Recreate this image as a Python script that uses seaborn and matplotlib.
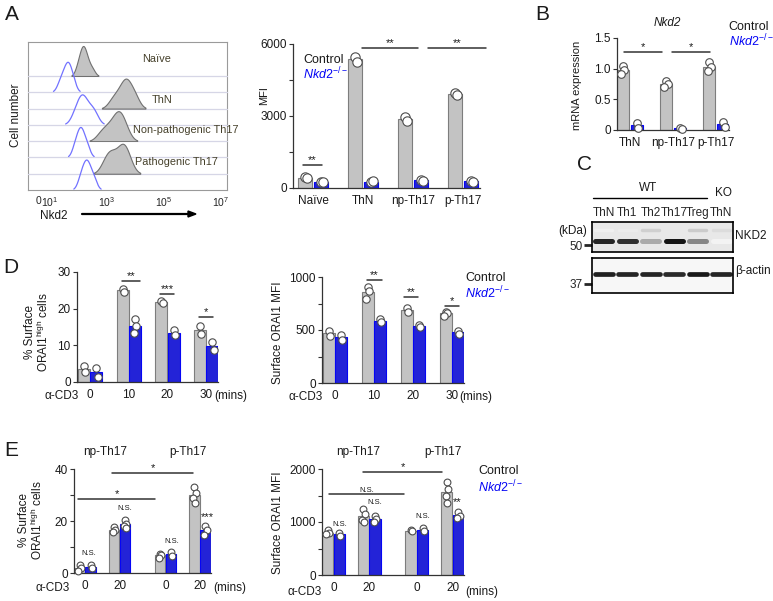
import numpy as np
import pandas as pd
import seaborn as sns
import matplotlib.pyplot as plt

sns.set_style('ticks')
plt.rcParams['font.family'] = ['Liberation Sans', 'DejaVu Sans']
plt.rcParams['mathtext.fontset'] = 'custom'
plt.rcParams['mathtext.rm'] = 'Liberation Sans'
plt.rcParams['mathtext.it'] = 'Liberation Sans:italic'
plt.rcParams['mathtext.bf'] = 'Liberation Sans:bold'

# ---------------- data ----------------
# A: flow histograms, log10 fluorescence of a few events per population
hist_names = ['Naïve', 'ThN', 'Non-pathogenic Th17', 'Pathogenic Th17']
naive_ctrl = [1.95, 2.03, 2.08, 2.12, 2.15, 2.18, 2.21, 2.25, 2.3, 2.38, 2.5]
naive_ko = [1.33, 1.44, 1.51, 1.57, 1.62, 1.66, 1.7, 1.76, 1.85]
thn_ctrl = [3.15, 3.3, 3.42, 3.52, 3.6, 3.65, 3.69, 3.74, 3.82, 3.95, 4.02]
thn_ko = [1.85, 1.97, 2.05, 2.11, 2.16, 2.21, 2.28, 2.4, 2.52, 2.6]
np_ctrl = [2.75, 2.92, 3.05, 3.17, 3.27, 3.35, 3.4, 3.45, 3.5, 3.58, 3.7]
np_ko = [1.85, 1.94, 2.0, 2.05, 2.09, 2.13, 2.18, 2.25, 2.35]
p_ctrl = [2.9, 3.02, 3.1, 3.18, 3.3, 3.44, 3.52, 3.57, 3.62, 3.68, 3.8]
p_ko = [2.05, 2.14, 2.2, 2.26, 2.3, 2.34, 2.4, 2.48, 2.58]
hist_ticks = [0.58, 1, 3, 5, 7]
hist_ticklabels = ['0', '$10^1$', '$10^3$', '$10^5$', '$10^7$']

# A: MFI
a_groups = ['Naïve', 'ThN', 'np-Th17', 'p-Th17']
a_ctrl = [[460, 400], [5460, 5250], [2960, 2800], [3960, 3880]]
a_ko = [[270, 240], [250, 290], [330, 310], [290, 270]]
a_sig = [(-0.2, 0.18, 958, '**'), (0.98, 2.1, 5833, '**'), (2.3, 3.46, 5833, '**')]

# B: mRNA
b_groups = ['ThN', 'np-Th17', 'p-Th17']
b_ctrl = [[1.04, 0.98, 0.92], [0.80, 0.75, 0.70], [1.11, 1.02, 0.96]]
b_ko = [[0.11, 0.04], [0.04, 0.02], [0.13, 0.05]]
b_sig = [(-0.14, 0.75, 1.27, '*'), (0.98, 1.85, 1.27, '*')]

# C: western blot band intensities
blot_lanes = ['ThN', 'Th1', 'Th2', 'Th17', 'Treg', 'ThN']
nkd2_band = [0.9, 0.85, 0.35, 0.97, 0.5, 0.05]
nkd2_upper = [0.07, 0.08, 0.2, 0.1, 0.22, 0.15]
actin_band = [0.92, 0.9, 0.9, 0.88, 0.95, 0.9]

# D: time course
d_times = ['0', '10', '20', '30']
d1_ctrl = [[4.3, 2.7], [25.5, 24.5], [22.2, 21.6], [15.3, 13.1]]
d1_ko = [[3.7, 1.5], [17.3, 15.4, 13.3], [14.2, 12.7], [10.9, 8.7]]
d1_sig = [(0.83, 1.29, 27.5, '**'), (1.81, 2.17, 24.0, '***'), (2.82, 3.18, 17.7, '*')]
d2_ctrl = [[494, 448], [905, 864, 793], [706, 672], [674, 658, 636]]
d2_ko = [[455, 408], [601, 578], [547, 527], [490, 466]]
d2_sig = [(0.82, 1.2, 972, '**'), (1.77, 2.13, 811, '**'), (2.82, 3.18, 726, '*')]

# E: np-Th17 vs p-Th17
e_pos = [0, 1, 2.33, 3.33]
e_times = ['0', '20', '0', '20']
e1_ctrl = [[3.2, 1.8, 0.8], [17.6, 16.7, 15.7], [7.5, 7.0, 5.9], [33.0, 30.8, 29.0, 27.0]]
e1_ko = [[3.0, 2.0], [20.4, 19.0, 17.9, 17.4], [8.1, 6.5], [17.9, 16.6, 14.8]]
e1_sig = [(-0.2, 2.03, 28.5, '*'), (0.78, 3.13, 38.5, '*')]
e1_notes = [(0.12, 6.2, 'N.S.'), (1.16, 23.5, 'N.S.'), (2.52, 10.8, 'N.S.'), (3.53, 21.5, '***')]
e2_ctrl = [[840, 790, 770], [1247, 1158, 1032, 1000], [845, 825], [1753, 1627, 1487, 1361]]
e2_ko = [[800, 745], [1120, 1063, 1000], [880, 830], [1190, 1120, 1075]]
e2_sig = [(-0.125, 1.96, 1528, 'N.S.'), (0.82, 3.04, 1943, '*')]
e2_notes = [(0.18, 887, 'N.S.'), (1.15, 1302, 'N.S.'), (2.49, 1038, 'N.S.'), (3.46, 1380, '**')]

# ---------------- style ----------------
GRAY = '#c3c3c3'
GRAY_EDGE = '#7d7d7d'
BLUE = '#0505f5'
INK = '#1a1a1a'
KO_LABEL = r'$\mathit{Nkd2}^{\mathit{-/-}}$'
JIT = [0.0, 0.035, -0.035, 0.015]

W, H = 773, 601
fig = plt.figure(figsize=(W / 100, H / 100), dpi=100)


def px_rect(l, t, r, b):
    return [l / W, 1 - b / H, (r - l) / W, (b - t) / H]


def ftext(x, y, s, **kw):
    kw.setdefault('ha', 'center')
    kw.setdefault('va', 'center')
    kw.setdefault('color', INK)
    fig.text(x / W, 1 - y / H, s, **kw)


def style_axes(ax):
    sns.despine(ax=ax)
    for s in ['left', 'bottom']:
        ax.spines[s].set_color('#333333')
        ax.spines[s].set_linewidth(0.9)
    ax.tick_params(axis='y', length=3, width=0.8, labelsize=8.5, pad=1.5, colors='#333333', labelcolor=INK)
    ax.tick_params(axis='x', length=0, labelsize=8.5, pad=5, labelcolor=INK)
    ax.set_xlabel('')
    ax.set_ylabel('')


def bar_panel(box, pos, ctrl, ko, width, gap, xlim, ylim, yticks, yticklabels,
              dot_s, xticklabels, sig, notes=()):
    rows = []
    for p, cvals, kvals in zip(pos, ctrl, ko):
        for k, v in enumerate(cvals):
            rows.append((p, 'Control', v, p - width / 4 + JIT[k % 4]))
        for k, v in enumerate(kvals):
            rows.append((p, 'KO', v, p + width / 4 + JIT[k % 4]))
    df = pd.DataFrame(rows, columns=['pos', 'geno', 'val', 'xdot'])
    ax = fig.add_axes(px_rect(*box))
    sns.barplot(data=df, x='pos', y='val', hue='geno', hue_order=['Control', 'KO'],
                palette={'Control': GRAY, 'KO': BLUE}, native_scale=True,
                errorbar=None, width=width, gap=gap, linewidth=0.8,
                edgecolor=GRAY_EDGE, legend=False, ax=ax)
    for bar in ax.patches:
        fc = bar.get_facecolor()
        if fc[2] > 0.8 and fc[0] < 0.3:
            bar.set_edgecolor(BLUE)
    sns.scatterplot(data=df, x='xdot', y='val', color='white', edgecolor='#4d4d4d',
                    linewidth=0.8, s=dot_s, zorder=3, legend=False, ax=ax, clip_on=False)
    ax.set_xlim(*xlim)
    ax.set_ylim(*ylim)
    ax.set_yticks(yticks)
    ax.set_yticklabels(yticklabels)
    ax.set_xticks(pos)
    ax.set_xticklabels(xticklabels)
    style_axes(ax)
    for x0, x1, y, lab in sig:
        ax.plot([x0, x1], [y, y], color='#333333', lw=1.1, clip_on=False)
        fs = 5.5 if lab == 'N.S.' else 8
        ax.text((x0 + x1) / 2, y, lab, ha='center', va='bottom', fontsize=fs, color=INK)
    for x, y, lab in notes:
        if lab == 'N.S.':
            ax.text(x, y, lab, ha='center', va='bottom', fontsize=5.5, color=INK)
        else:
            ax.text(x, y, lab, ha='center', va='center', fontsize=8, color=INK)
    return ax


# ---------------- A: histograms ----------------
HX = (0.228, 7.21)
box = fig.add_axes(px_rect(28, 41.7, 227, 190))
box.set_xlim(*HX)
box.set_yticks([])
box.set_xticks(hist_ticks)
box.set_xticklabels(hist_ticklabels)
box.tick_params(axis='x', length=0, labelsize=7.5, pad=4)
for s in box.spines.values():
    s.set_color('#9a9a9a')
    s.set_linewidth(0.8)

curves = [(naive_ctrl, 'c'), (naive_ko, 'k'), (thn_ctrl, 'c'), (thn_ko, 'k'),
          (np_ctrl, 'c'), (np_ko, 'k'), (p_ctrl, 'c'), (p_ko, 'k')]
for i, (samples, kind) in enumerate(curves):
    base = 76 + 16.29 * i
    cax = fig.add_axes(px_rect(28, base - 40, 227, base))
    cax.patch.set_alpha(0)
    if kind == 'c':
        sns.kdeplot(x=samples, ax=cax, fill=True, color=GRAY, alpha=1, cut=2,
                    edgecolor='#707070', linewidth=0.8, bw_adjust=1.0)
        peak = cax.collections[0].get_paths()[0].vertices[:, 1].max()
    else:
        sns.kdeplot(x=samples, ax=cax, color='#7272ff', linewidth=0.9, cut=2, bw_adjust=1.0)
        peak = cax.lines[0].get_ydata().max()
    cax.set_xlim(*HX)
    cax.set_ylim(0, peak * 40 / 30)
    if i < 7:
        cax.axhline(0, color='#d6d6e6', lw=0.9, clip_on=False, zorder=0)
    cax.set_axis_off()

hist_label_pos = [(157, 59), (162, 100), (186, 130), (176, 162)]
for name, (x, y) in zip(hist_names, hist_label_pos):
    ftext(x, y, name, fontsize=7.8, color='#45402a')
ftext(16, 115, 'Cell number', rotation=90, fontsize=8.5)
ftext(54, 216, 'Nkd2', fontsize=8.5)
fig.add_artist(plt.Line2D([82 / W, 190 / W], [1 - 214 / H, 1 - 214 / H], color='black', lw=1.6))
fig.add_artist(plt.Polygon([[188 / W, 1 - 211 / H], [196 / W, 1 - 214 / H], [188 / W, 1 - 217 / H]],
                           closed=True, color='black'))

# ---------------- A: MFI bars ----------------
bar_panel((293, 44, 480, 188), [0, 1, 2, 3], a_ctrl, a_ko, 0.64, 0.12, (-0.4, 3.34),
          (0, 6000), [0, 1500, 3000, 4500, 6000], ['0', '', '3000', '', '6000'],
          45, a_groups, a_sig)
ftext(264, 96, 'MFI', rotation=90, fontsize=8)
ftext(303, 60, 'Control', ha='left', fontsize=9)
ftext(303, 74, KO_LABEL, ha='left', fontsize=9, color=BLUE)

# ---------------- B ----------------
bar_panel((617, 38, 729, 130), [0, 1, 2], b_ctrl, b_ko, 0.65, 0.14, (-0.3, 2.3),
          (0, 1.5), [0, 0.5, 1.0, 1.5], ['0', '0.5', '1.0', '1.5'],
          30, b_groups, b_sig)
ftext(667, 23, 'Nkd2', fontsize=8.5, style='italic')
ftext(577, 85, 'mRNA expression', rotation=90, fontsize=8)
ftext(728, 27, 'Control', ha='left', fontsize=9)
ftext(729, 41, KO_LABEL, ha='left', fontsize=9, color=BLUE)

# ---------------- C: western blot ----------------
lanes = np.arange(len(blot_lanes))
bax = fig.add_axes(px_rect(592, 222, 733, 252))
bax.set_facecolor('#e8e8e8')
for x, v in zip(lanes, nkd2_upper):
    bax.hlines(0.73, x - 0.36, x + 0.36, color=str(1 - 0.92 * v), lw=2.5, capstyle='round')
for x, v in zip(lanes, nkd2_band):
    bax.hlines(0.37, x - 0.36, x + 0.36, color=str(1 - 0.95 * v), lw=3.6, capstyle='round')
bax.set_xlim(-0.5, 5.5)
bax.set_ylim(0, 1)
bax.set_xticks(lanes)
bax.set_xticklabels(blot_lanes)
bax.xaxis.tick_top()
bax.tick_params(axis='x', length=0, labelsize=8.5, pad=2)
bax.set_yticks([0.23])
bax.set_yticklabels(['50'])
bax.tick_params(axis='y', length=6, width=2, labelsize=8.5, pad=1)
for s in bax.spines.values():
    s.set_color('black')
    s.set_linewidth(1.2)

aax = fig.add_axes(px_rect(592, 258, 733, 293))
aax.set_facecolor('#f7f7f7')
for x, v in zip(lanes, actin_band):
    aax.hlines(0.54, x - 0.38, x + 0.38, color=str(1 - 0.95 * v), lw=3.4, capstyle='round')
aax.set_xlim(-0.5, 5.5)
aax.set_ylim(0, 1)
aax.set_xticks([])
aax.set_yticks([0.26])
aax.set_yticklabels(['37'])
aax.tick_params(axis='y', length=6, width=2, labelsize=8.5, pad=1)
for s in aax.spines.values():
    s.set_color('black')
    s.set_linewidth(1.2)

ftext(648, 188, 'WT', fontsize=8.5)
fig.add_artist(plt.Line2D([593 / W, 707 / W], [1 - 198 / H, 1 - 198 / H], color='black', lw=1))
ftext(723, 193, 'KO', fontsize=8.5)
ftext(573, 231, '(kDa)', fontsize=8.5)
ftext(735, 236, 'NKD2', ha='left', fontsize=8.5)
ftext(735, 271, 'β-actin', ha='left', fontsize=8.5)

# ---------------- D ----------------
bar_panel((77, 272, 218, 382), [0, 1, 2, 3], d1_ctrl, d1_ko, 0.64, 0.02, (-0.34, 3.31),
          (0, 30), [0, 10, 20, 30], ['0', '10', '20', '30'], 28, d_times, d1_sig)
ftext(30, 332, '% Surface', rotation=90, fontsize=8.5)
ftext(43, 332, r'ORAI1$^{\rm high}$ cells', rotation=90, fontsize=8.5)
ftext(62, 396, 'α-CD3', fontsize=8.5)
ftext(231, 396, '(mins)', fontsize=8.5)

bar_panel((322, 277, 464, 383), [0, 1, 2, 3], d2_ctrl, d2_ko, 0.62, 0.02, (-0.33, 3.31),
          (0, 1000), [0, 250, 500, 750, 1000], ['0', '', '500', '', '1000'], 28, d_times, d2_sig)
ftext(278, 333, 'Surface ORAI1 MFI', rotation=90, fontsize=8.5)
ftext(306, 397, 'α-CD3', fontsize=8.5)
ftext(476, 397, '(mins)', fontsize=8.5)
ftext(465, 278, 'Control', ha='left', fontsize=9)
ftext(465, 293, KO_LABEL, ha='left', fontsize=9, color=BLUE)

# ---------------- E ----------------
bar_panel((74, 469, 211, 573), e_pos, e1_ctrl, e1_ko, 0.64, 0.02, (-0.32, 3.65),
          (0, 40), [0, 10, 20, 30, 40], ['0', '', '20', '', '40'], 24, e_times, e1_sig, e1_notes)
ftext(24, 520, '% Surface', rotation=90, fontsize=8.5)
ftext(37, 520, r'ORAI1$^{\rm high}$ cells', rotation=90, fontsize=8.5)
ftext(105, 452, 'np-Th17', fontsize=8.5)
ftext(188, 452, 'p-Th17', fontsize=8.5)
ftext(53, 588, 'α-CD3', fontsize=8.5)
ftext(230, 588, '(mins)', fontsize=8.5)

bar_panel((322, 469, 464, 575), e_pos, e2_ctrl, e2_ko, 0.64, 0.02, (-0.32, 3.65),
          (0, 2000), [0, 500, 1000, 1500, 2000], ['0', '', '1000', '', '2000'], 24, e_times,
          e2_sig, e2_notes)
ftext(278, 523, 'Surface ORAI1 MFI', rotation=90, fontsize=8.5)
ftext(358, 452, 'np-Th17', fontsize=8.5)
ftext(443, 452, 'p-Th17', fontsize=8.5)
ftext(305, 592, 'α-CD3', fontsize=8.5)
ftext(482, 592, '(mins)', fontsize=8.5)
ftext(478, 471, 'Control', ha='left', fontsize=9)
ftext(478, 487, KO_LABEL, ha='left', fontsize=9, color=BLUE)

# panel letters
for letter, (x, y) in zip('ABCDE', [(12, 15), (542, 15), (585, 165), (11, 267), (11, 450)]):
    ftext(x, y, letter, fontsize=15)

fig.savefig('out.png', dpi=100)
